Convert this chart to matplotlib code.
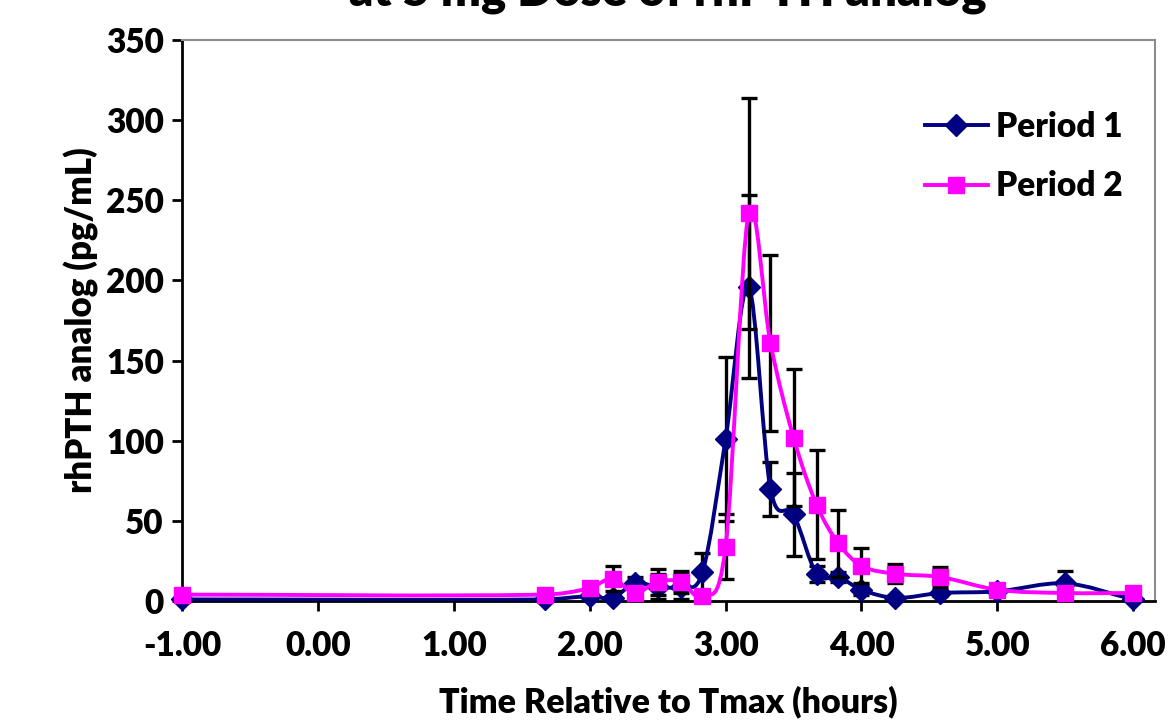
import numpy as np
import matplotlib
matplotlib.use("Agg")
import matplotlib.pyplot as plt
from matplotlib.path import Path
from matplotlib.patches import PathPatch
from matplotlib.lines import Line2D

# data
time_h = [-1.00, 1.67, 2.00, 2.17, 2.33, 2.50, 2.67, 2.83, 3.00, 3.17,
          3.33, 3.50, 3.67, 3.83, 4.00, 4.25, 4.58, 5.00, 5.50, 6.00]
period1 = [1, 1, 3, 2, 11, 9, 9, 18, 101, 196, 70, 54, 17, 15, 7, 2, 5, 6, 11, 1]
period1_err = [0, 0, 1, 1, 4, 8, 8, 12, 51, 57, 17, 26, 5, 3, 3, 1, 2, 1, 8, 0]
period2 = [4, 4, 8, 14, 5, 12, 12, 3, 34, 242, 161, 102, 60, 36, 22, 17, 15, 7, 5, 5]
period2_err = [0, 0, 2, 8, 3, 8, 7, 2, 20, 72, 55, 43, 34, 21, 11, 6, 6, 1, 1, 1]

x_ticks = [-1, 0, 1, 2, 3, 4, 5, 6]
y_ticks = [0, 50, 100, 150, 200, 250, 300, 350]

FONT = "Lato"
WEIGHT = 'heavy'
plt.rcParams['font.family'] = FONT
plt.rcParams['font.weight'] = WEIGHT


def smooth_path(x, y):
    """Cubic Hermite curve through the points (like Excel's smoothed line)."""
    x = np.asarray(x, float)
    y = np.asarray(y, float)
    n = len(x)
    m = np.zeros(n)
    for i in range(n):
        if i == 0:
            m[i] = (y[1] - y[0]) / (x[1] - x[0])
        elif i == n - 1:
            m[i] = (y[-1] - y[-2]) / (x[-1] - x[-2])
        else:
            m[i] = (y[i + 1] - y[i - 1]) / (x[i + 1] - x[i - 1])
    verts = [(x[0], y[0])]
    codes = [Path.MOVETO]
    for i in range(n - 1):
        h = x[i + 1] - x[i]
        verts += [(x[i] + h / 3, y[i] + m[i] * h / 3),
                  (x[i + 1] - h / 3, y[i + 1] - m[i + 1] * h / 3),
                  (x[i + 1], y[i + 1])]
        codes += [Path.CURVE4] * 3
    return Path(verts, codes)


fig = plt.figure(figsize=(11.68, 7.23), dpi=100)
ax = fig.add_axes([0.1558, 0.1687, 0.8331, 0.7760])

series = [
    (period1, period1_err, '#000080', 'D', 11, 'Period 1'),
    (period2, period2_err, '#FF00FF', 's', 11, 'Period 2'),
]
handles = []
for k, (vals, errs, col, mk, ms, lab) in enumerate(series):
    vals = np.asarray(vals, float)
    errs = np.asarray(errs, float)
    t = np.asarray(time_h, float)
    keep = errs > 0
    ax.errorbar(t[keep], vals[keep], yerr=errs[keep], fmt='none', ecolor='black',
                elinewidth=2.4, capsize=5.5, capthick=2.4, zorder=2 + 3 * k)
    ax.add_patch(PathPatch(smooth_path(t, vals), fill=False, edgecolor=col,
                           lw=2.8, zorder=3 + 3 * k))
    ax.plot(t, vals, linestyle='none', marker=mk, ms=ms, color=col,
            zorder=4 + 3 * k, clip_on=False)
    handles.append(Line2D([], [], color=col, lw=2.8, marker=mk, ms=ms, label=lab))

ax.set_xlim(-1, 6.16)
ax.set_ylim(0, 350)
ax.set_xticks(x_ticks)
ax.set_xticklabels([f"{v:.2f}" for v in x_ticks])
ax.set_yticks(y_ticks)
ax.tick_params(axis='both', direction='out', length=7, width=2, labelsize=24)
ax.tick_params(axis='x', pad=14)
ax.tick_params(axis='y', pad=6)
for lbl in ax.get_xticklabels() + ax.get_yticklabels():
    lbl.set_fontweight(WEIGHT)

for side in ['left', 'bottom']:
    ax.spines[side].set_linewidth(2)
    ax.spines[side].set_color('black')
for side in ['top', 'right']:
    ax.spines[side].set_linewidth(1.5)
    ax.spines[side].set_color('#8c8c8c')

ax.set_xlabel('Time Relative to Tmax (hours)', fontsize=24.5, fontweight=WEIGHT, labelpad=17)
ax.set_ylabel('rhPTH analog (pg/mL)', fontsize=25, fontweight=WEIGHT, labelpad=5)

fig.text(0.572, 0.993, 'at 5 mg Dose of rhPTH analog', ha='center', va='baseline',
         fontsize=34, fontweight=WEIGHT)

ax.legend(handles=handles, loc='upper right', bbox_to_anchor=(0.998, 0.927), frameon=False,
          prop={'weight': WEIGHT, 'size': 24}, handlelength=1.9,
          handletextpad=0.25, labelspacing=0.82)

fig.savefig('out.png', dpi=100)
